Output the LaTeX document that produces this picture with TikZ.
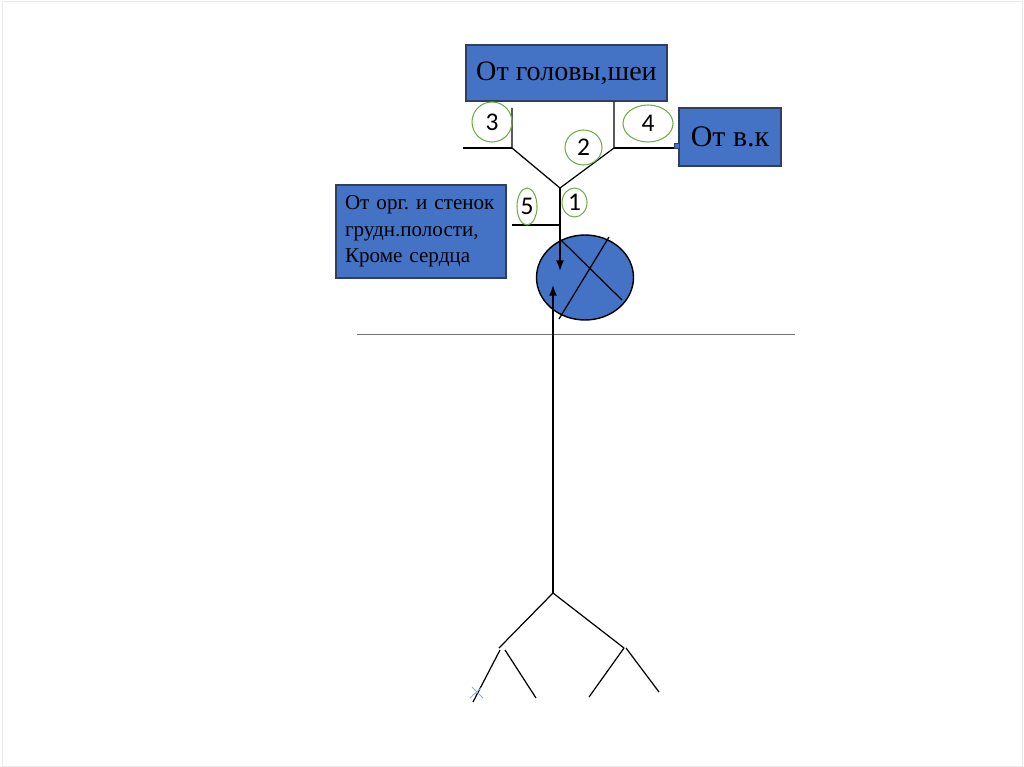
\documentclass[tikz,border=0pt]{standalone}
\usepackage{fontspec}
\setmainfont{Liberation Serif}
\newfontfamily\numfont{Carlito}
\usetikzlibrary{arrows.meta,shapes.geometric}
\definecolor{boxblue}{HTML}{4472C4}
\definecolor{boxedge}{HTML}{2F3F5F}
\definecolor{ringgreen}{HTML}{70AD47}
\definecolor{crossblue}{HTML}{8FAADC}
\frenchspacing
\begin{document}
\begin{tikzpicture}[x=0.02cm,y=-0.02cm,
	bluebox/.style={ draw=boxedge, fill=boxblue, line width=0.7pt, inner sep=0pt },
	numring/.style={ ellipse, draw=ringgreen, line width=0.6pt, inner sep=0pt, font=\numfont\fontsize{14.5}{15}\selectfont },
	vein/.style={ line width=0.7pt },
	flow/.style={ line width=0.9pt, -{Latex[length=6pt,width=4.5pt]} }
]

\useasboundingbox (0,0) rectangle (1024,767);
\draw[black!8, line width=0.4pt] (2,1) rectangle (1022,766);

% boxes
\node at (566.5,73) (head) [bluebox, minimum width=4.02cm, minimum height=1.12cm, font=\fontsize{16}{18}\selectfont] {От головы,шеи};
\node at (730,137) (vk) [bluebox, minimum width=2.04cm, minimum height=1.16cm, font=\fontsize{17}{18}\selectfont] {От в.к};
\node at (421,231.5) (org) [bluebox, minimum width=3.4cm, minimum height=1.86cm, text width=3.04cm, align=left, font=\fontsize{12}{15}\selectfont] {От орг. и стенок\\грудн.полости,\\Кроме сердца};
\node at (676.5,146) (plug) [draw=boxedge, fill=boxblue, line width=0.4pt, minimum size=0.1cm, inner sep=0pt] {};

% heart
\node at (585,277.5) (heart) [ellipse, draw, fill=boxblue, line width=0.8pt, minimum width=1.94cm, minimum height=1.7cm] {};
\draw[vein] (561,240) -- (622,300);
\draw[vein] (609,237) -- (559,319);

% upper veins
\coordinate (lt) at (512,108);
\coordinate (lj) at (512,148);
\coordinate (le) at (463,148);
\coordinate (rj) at (614,148);
\coordinate (fork) at (560,188);
\coordinate (sj) at (560,225);
\coordinate (se) at (512,225);
\coordinate (dtip) at (560,271);
\draw[vein] (lt) -- (lj) -- (fork) -- (rj) -- (head.south -| rj);
\draw[vein] (le) -- (lj);
\draw[vein] (rj) -- (rj -| plug.west);
\draw[vein] (se) -- (sj);
\draw[flow] (fork) -- (dtip);

% numbers
\node at (492,122) (n3) [numring, minimum width=0.8cm, minimum height=0.8cm] {3};
\node at (648,123.5) (n4) [numring, minimum width=1cm, minimum height=0.74cm] {4};
\node at (583.5,147.5) (n2) [numring, minimum width=0.74cm, minimum height=0.7cm] {2};
\node at (527,206.5) (n5) [numring, minimum width=0.4cm, minimum height=0.74cm] {5};
\node at (574.5,202.5) (n1) [numring, minimum width=0.5cm, minimum height=0.58cm] {1};

% diaphragm
\draw[black!55, line width=0.5pt] (357,334) -- (795,334);

% lower veins
\coordinate (root) at (553,593);
\coordinate (utip) at (553,285);
\coordinate (lb) at (499,648);
\coordinate (rb) at (624,648);
\draw[flow] (root) -- (utip);
\draw[vein] (lb) -- (root) -- (rb);
\draw[vein] (500,650) -- (473,702);
\draw[vein] (505,650) -- (536,698);
\draw[vein] (624,648) -- (589,697);
\draw[vein] (626,648) -- (659,692);
\draw[crossblue, line width=0.5pt] (472,687) -- (483,698);
\draw[crossblue, line width=0.5pt] (470,698) -- (481,688);

\end{tikzpicture}
\end{document}
